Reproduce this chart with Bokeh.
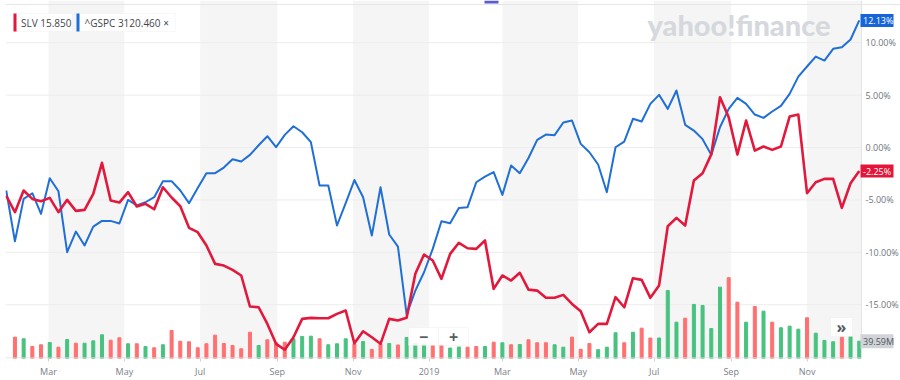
import pandas as pd
from bokeh.plotting import figure
from bokeh.models import (Range1d, FixedTicker, BoxAnnotation, Label, Span,
                          ColumnDataSource)
from bokeh.embed import file_html
from bokeh.resources import INLINE

# ---------------- data (weekly, % change) ----------------
start_date = "2018-01-26"
slv_pct = [
    -4.60, -6.17, -4.10, -4.90, -5.12, -4.80, -6.17, -4.99, -6.04, -5.95,
    -4.42, -1.46, -5.06, -5.25, -4.26, -5.63, -5.37, -5.89, -3.79, -4.77,
    -5.60, -7.66, -8.08, -9.35, -11.10, -11.26, -11.67, -12.21, -15.17, -15.24,
    -16.83, -18.73, -19.30, -18.10, -16.35, -16.25, -16.29, -16.29, -15.87, -15.55,
    -18.68, -17.53, -18.10, -18.73, -16.35, -16.51, -16.25, -12.05, -10.21, -10.78,
    -12.53, -10.15, -9.09, -9.61, -9.67, -8.87, -13.49, -12.21, -12.69, -11.95,
    -13.56, -13.65, -14.34, -14.34, -14.06, -14.92, -15.62, -17.62, -16.83, -16.83,
    -14.28, -15.24, -12.47, -12.63, -14.34, -13.17, -7.51, -6.71, -7.44, -3.15,
    -2.45, -0.65, 4.80, 2.89, -0.67, 2.58, -0.29, 0.10, -0.22, 0.10,
    2.96, 3.15, -4.36, -3.31, -2.99, -2.99, -5.76, -3.41, -2.25,
]
gspc_pct = [
    -4.10, -8.94, -4.90, -4.36, -6.33, -2.93, -4.17, -9.99, -8.02, -9.35,
    -7.54, -7.00, -7.00, -7.25, -5.00, -5.53, -5.22, -4.74, -3.21, -3.21,
    -4.10, -5.31, -3.86, -2.45, -2.45, -1.91, -1.12, -1.34, -0.70, 0.22,
    1.08, 0.03, 1.21, 2.03, 1.46, 0.51, -3.63, -3.63, -7.44, -5.31,
    -3.10, -4.74, -8.40, -3.79, -8.30, -9.45, -15.94, -13.65, -11.90, -9.67,
    -7.03, -7.22, -5.76, -5.69, -3.31, -2.77, -2.35, -4.52, -1.72, -2.45,
    -1.00, 0.73, 1.24, 1.18, 2.39, 2.58, 0.35, -0.45, -1.62, -4.26,
    0.03, 0.57, 2.74, 2.48, 4.17, 5.03, 3.69, 5.44, 2.17, 1.62,
    0.80, -0.70, 1.94, 3.69, 4.74, 4.17, 3.15, 2.83, 3.44, 3.98,
    5.12, 6.77, 7.73, 8.68, 8.30, 9.42, 9.57, 10.31, 12.13,
]
volume_m = [
    None, 48.8, 45.1, 27.5, 31.4, 36.6, 25.9, 43.5, 35.0, 35.0,
    40.5, 54.3, 41.9, 47.4, 33.7, 33.7, 27.5, 24.5, 31.4, 64.1,
    39.6, 38.2, 24.5, 33.7, 53.4, 34.4, 29.8, 22.2, 60.2, 29.8,
    42.8, 36.0, 37.3, 45.1, 50.4, 51.1, 45.1, 31.4, 33.7, 45.1,
    33.7, 38.9, 20.6, 32.7, 34.4, 30.9, 48.1, 34.4, 33.2, 29.8,
    30.9, 24.0, 26.3, 25.9, 27.5, 27.5, 37.3, 36.0, 31.4, 32.1,
    42.8, 36.0, 36.0, 31.4, 25.9, 48.8, 21.1, 34.4, 20.2, 25.9,
    58.9, 36.0, 60.2, 69.4, 46.9, 46.9, 155.7, 83.1, 92.3, 123.7,
    121.4, 68.7, 163.3, 184.8, 128.9, 83.1, 119.1, 108.3, 83.1, 70.3,
    74.0, 67.1, 93.2, 57.9, 41.2, 38.2, 48.8, 50.4, 39.59,
]
vol_up = [
    0, 0, 1, 0, 0, 1, 0, 1, 0, 1,
    1, 1, 0, 0, 1, 0, 1, 0, 1, 0,
    0, 0, 0, 0, 0, 0, 0, 0, 0, 1,
    0, 0, 0, 1, 1, 1, 0, 1, 1, 1,
    0, 1, 0, 0, 1, 0, 1, 1, 1, 0,
    0, 1, 1, 0, 0, 1, 0, 1, 0, 1,
    0, 0, 0, 1, 1, 0, 0, 0, 1, 1,
    1, 0, 1, 0, 0, 1, 1, 1, 0, 1,
    1, 1, 1, 0, 0, 1, 0, 1, 0, 1,
    1, 1, 0, 1, 1, 1, 0, 1, 1,
]
slv_quote = "15.850"
gspc_quote = "3120.460"
volume_label = "39.59M"

tick_dates = ["2018-03-01", "2018-05-01", "2018-07-01", "2018-09-01", "2018-11-01",
              "2019-01-01", "2019-03-01", "2019-05-01", "2019-07-01", "2019-09-01",
              "2019-11-01"]
tick_labels = ["Mar", "May", "Jul", "Sep", "Nov", "2019", "Mar", "May", "Jul", "Sep", "Nov"]
pct_ticks = [-15, -10, -5, 0, 5, 10]
pct_labels = ["-15.00%", "-10.00%", "-5.00%", "0.00%", "5.00%", "10.00%"]
band_starts = ["2018-03-01", "2018-07-01", "2018-11-01", "2019-03-01", "2019-07-01", "2019-11-01"]
band_ends = ["2018-05-01", "2018-09-01", "2019-01-01", "2019-05-01", "2019-09-01", None]

# ---------------- layout constants ----------------
RED = "#e2183c"
BLUE = "#1f6fd6"
GREEN_BAR = "#48c27f"
RED_BAR = "#ff7070"
FONT = "Open Sans"
FL, FR, FT, FB = 5, 900, 0, 358          # frame edges in canvas px
AX = 861                                 # x of the price-scale line
FW, FH = FR - FL, FB - FT
PCT_PX = 10.48                           # px per 1 %
VOL_PX = 2.288                           # million shares per px


def ms(d):
    return int(pd.Timestamp(d).value // 10**6)


def cx(x):
    return x - FL


def cy(y):
    return FB - y


dates = pd.date_range(start_date, periods=len(slv_pct), freq="7D")
anchor = pd.Timestamp("2018-03-01")
px_per_day = 1.2435
x0 = anchor - pd.Timedelta(days=(48 - FL) / px_per_day)
x1 = anchor + pd.Timedelta(days=(FR - 48) / px_per_day)
x_ax = anchor + pd.Timedelta(days=(AX - 48) / px_per_day)

src = ColumnDataSource(dict(
    date=dates,
    slv=slv_pct,
    gspc=gspc_pct,
    vol=[float("nan") if v is None else v for v in volume_m],
    color=[GREEN_BAR if u else RED_BAR for u in vol_up],
))

p = figure(width=900, height=380, x_axis_type="datetime",
           x_range=Range1d(x0, x1), y_range=Range1d(-20.13, 14.03),
           toolbar_location=None, output_backend="svg",
           min_border_left=FL, min_border_right=0, min_border_top=FT,
           min_border_bottom=380 - FB)
p.yaxis.visible = False
p.outline_line_color = None
p.background_fill_color = "white"
p.border_fill_color = "white"
p.xgrid.grid_line_color = None
p.ygrid.grid_line_color = None

# month bands
for s, e in zip(band_starts, band_ends):
    right = ms(e) if e else int(x_ax.value // 10**6)
    p.add_layout(BoxAnnotation(left=ms(s), right=right, fill_color="#f5f5f5",
                               fill_alpha=1, line_color=None, level="image"))

# horizontal grid (stops at the price scale) and the price-scale line
p.segment(x0=[x0] * len(pct_ticks), x1=[x_ax] * len(pct_ticks), y0=pct_ticks,
          y1=pct_ticks, line_color="#ececec", line_width=1)
p.add_layout(Span(location=int(x_ax.value // 10**6), dimension="height",
                  line_color="#e3e3e3", line_width=1))
p.add_layout(Span(location=13.65, dimension="width", line_color="#e6e6e6", line_width=1))

# price-scale labels
p.text(x=[x_ax] * len(pct_ticks), y=pct_ticks, text=pct_labels, x_offset=4,
       text_baseline="middle", text_align="left", text_font={"value": FONT},
       text_font_size="9px", text_color="#6f757b")

# x axis
xa = p.xaxis[0]
xa.ticker = FixedTicker(ticks=[ms(d) for d in tick_dates])
xa.major_label_overrides = {ms(d): l for d, l in zip(tick_dates, tick_labels)}
xa.axis_line_color = None
xa.major_tick_line_color = "#d0d0d0"
xa.major_tick_out = 3
xa.major_tick_in = 0
xa.minor_tick_line_color = None
xa.major_label_standoff = 3
xa.major_label_text_font = FONT
xa.major_label_text_font_size = "9px"
xa.major_label_text_color = "#7b8187"
p.add_layout(BoxAnnotation(left=0, right=cx(AX), bottom=0, top=1, left_units="screen",
                           right_units="screen", top_units="screen", bottom_units="screen",
                           fill_color="#dcdcdc", fill_alpha=1, line_color=None,
                           level="overlay"))

# volume
p.extra_y_ranges = {"vol": Range1d(0, FH * VOL_PX)}
bar_w = 3 / px_per_day * 86400000
p.vbar(x="date", top="vol", bottom=0, width=bar_w, color="color", source=src,
       y_range_name="vol")

# watermark
p.add_layout(Label(x=cx(647), y=cy(24), x_units="screen", y_units="screen",
                   text="yahoo!finance", text_font="Lato Black, Lato", text_font_style="bold",
                   text_font_size="29px", text_color="#d5d8dc", text_baseline="middle",
                   level="underlay"))

# lines
p.line(x="date", y="gspc", source=src, line_color=BLUE, line_width=2, line_join="round")
p.line(x="date", y="slv", source=src, line_color=RED, line_width=2.6, line_join="round")

# end-value tags (box + text) on the price scale
tags = [
    (gspc_pct[-1], f"{gspc_pct[-1]:.2f}%", "#1565d8", "white", "default", 6.5 / PCT_PX),
    (slv_pct[-1], f"{slv_pct[-1]:.2f}%", "#e3163a", "white", "default", 6.5 / PCT_PX),
    (volume_m[-1], volume_label, "#d0d3d7", "#50565c", "vol", 7 * VOL_PX),
]
for val, txt, bg, fg, rng, half in tags:
    p.add_layout(BoxAnnotation(left=cx(860), right=cx(893), left_units="screen",
                               right_units="screen", top=val + half, bottom=val - half,
                               y_range_name=rng, fill_color=bg, fill_alpha=1,
                               line_color=None, level="overlay"))
    p.add_layout(Label(x=cx(862.5), y=val, x_units="screen", y_range_name=rng, text=txt,
                       text_baseline="middle", text_font=FONT, text_font_size="9px",
                       text_color=fg, level="overlay"))

# legend chips
for x_txt, x_l, x_r, txt, col in [(20.5, 13, 72, f"SLV {slv_quote}", RED),
                                  (84, 76, 175, f"^GSPC {gspc_quote}  \u00d7", BLUE)]:
    p.add_layout(BoxAnnotation(left=cx(x_l), right=cx(x_r), top=cy(13), bottom=cy(31),
                               left_units="screen", right_units="screen",
                               top_units="screen", bottom_units="screen",
                               fill_color="white", fill_alpha=1, line_color="#e9e9e9",
                               level="overlay"))
    p.add_layout(BoxAnnotation(left=cx(x_l), right=cx(x_l + 3), top=cy(13), bottom=cy(31),
                               left_units="screen", right_units="screen",
                               top_units="screen", bottom_units="screen",
                               fill_color=col, fill_alpha=1, line_color=None,
                               level="overlay"))
    p.add_layout(Label(x=cx(x_txt), y=cy(22), x_units="screen", y_units="screen",
                       text=txt, text_baseline="middle", text_font=FONT,
                       text_font_size="10px", text_color="#3f464d", level="overlay"))

# zoom buttons and top handle
for (l, r, t, b, sym) in [(408, 438, 327, 345, "\u2212"), (438, 468, 327, 345, "+"),
                          (830, 852, 317, 336, "\u00bb")]:
    p.add_layout(BoxAnnotation(left=cx(l), right=cx(r), top=cy(t), bottom=cy(b),
                               left_units="screen", right_units="screen",
                               top_units="screen", bottom_units="screen",
                               fill_color="white", fill_alpha=0.85, line_color="#e6e6e6",
                               level="overlay"))
    p.add_layout(Label(x=cx((l + r) / 2), y=cy((t + b) / 2), x_units="screen",
                       y_units="screen", text=sym, text_align="center",
                       text_baseline="middle", text_font=FONT,
                       text_font_style="bold", text_font_size="16px",
                       text_color="#555b61", level="overlay"))
p.add_layout(BoxAnnotation(left=cx(484), right=cx(498), top=cy(0), bottom=cy(3),
                           left_units="screen", right_units="screen",
                           top_units="screen", bottom_units="screen",
                           fill_color="#5b5bd6", fill_alpha=1, line_color=None,
                           level="overlay"))

open("out.html", "w").write(file_html(p, INLINE))
